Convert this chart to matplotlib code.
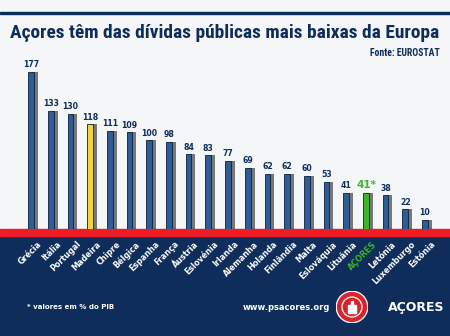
import numpy as np
import matplotlib.pyplot as plt
from matplotlib import font_manager
from matplotlib.patches import Rectangle, Circle

# dados (divida publica em % do PIB)
countries = ['Grécia', 'Itália', 'Portugal', 'Madeira', 'Chipre', 'Bélgica',
             'Espanha', 'França', 'Áustria', 'Eslovénia', 'Irlanda', 'Alemanha',
             'Holanda', 'Finlândia', 'Malta', 'Eslováquia', 'Lituânia', 'AÇORES',
             'Letónia', 'Luxemburgo', 'Estónia']
values = [177, 133, 130, 118, 111, 109, 100, 98, 84, 83, 77, 69,
          62, 62, 60, 53, 41, 41, 38, 22, 10]
value_labels = ['177', '133', '130', '118', '111', '109', '100', '98', '84', '83', '77', '69',
                '62', '62', '60', '53', '41', '41*', '38', '22', '10']

NAVY = '#0e2d5b'
BLUE = '#2f5b96'
RED = '#ee1c25'
GREEN = '#3cb527'
YELLOW = '#f2d53c'

W, H = 450, 336

# procurar uma fonte estreita para o titulo
names = set(f.name for f in font_manager.fontManager.ttflist)
narrow = 'DejaVu Sans'
for cand in ['Liberation Sans Narrow', 'DejaVu Sans Condensed', 'Roboto Condensed',
             'Open Sans Condensed', 'Roboto', 'Inter']:
    if cand in names:
        narrow = cand
        break

fig = plt.figure(figsize=(4.5, 3.36), dpi=100)
fig.patch.set_facecolor('#f5f6f8')

def fy(py):
    return 1 - py / H

# fundo: faixa azul em baixo, linha vermelha, linha no topo
fig.patches.append(Rectangle((0, 0), 1, fy(236), transform=fig.transFigure,
                             color=NAVY, zorder=-2))
fig.patches.append(Rectangle((0, fy(236)), 1, 7 / H, transform=fig.transFigure,
                             color=RED, zorder=-2))
fig.patches.append(Rectangle((0, fy(14)), 1, 2.5 / H, transform=fig.transFigure,
                             color=NAVY, zorder=-2))

title = fig.text(0.5, fy(33), 'Açores têm das dívidas públicas mais baixas da Europa',
                 ha='center', va='center', color=NAVY, fontsize=15, fontweight='bold',
                 family=narrow)
fig.canvas.draw()
tw = title.get_window_extent().width
title.set_fontsize(15 * 428 / tw)

fig.text(0.978, fy(53), 'Fonte: EUROSTAT', ha='right', va='center', color=NAVY,
         fontsize=7, fontweight='bold', family=narrow)

# eixo dos dados
x0, step = 31, 19.7
ax = fig.add_axes([0, fy(229), 1, (229 - 60) / H])
ax.set_xlim(-x0 / step, (W - x0) / step)
ax.set_ylim(0, 169 / 0.887)
ax.axis('off')

x = np.arange(len(values))
colors = []
for c in countries:
    if c == 'Madeira':
        colors.append(YELLOW)
    elif c == 'AÇORES':
        colors.append(GREEN)
    else:
        colors.append(BLUE)

# sombra
ax.bar(x + 0.2, values, width=0.3, color='#222222', alpha=0.6, zorder=1)
ax.bar(x, values, width=0.29, color=colors, edgecolor='#0b1f3f', linewidth=0.6, zorder=2)

for xi, v, lab, c in zip(x, values, value_labels, countries):
    if c == 'AÇORES':
        ax.text(xi + 0.05, v + 3, lab, ha='center', va='bottom', color=GREEN,
                fontsize=7.5, fontweight='bold')
    else:
        ax.text(xi, v + 3, lab, ha='center', va='bottom', color=NAVY,
                fontsize=5.6, fontweight='bold')

# nomes rodados por baixo
for xi, c in zip(x, countries):
    ax.text(xi + 0.3, -12, c, rotation=45, ha='right', va='top',
            rotation_mode='anchor', color=GREEN if c == 'AÇORES' else 'white',
            fontsize=5.8, fontweight='bold', clip_on=False)

fig.text(27 / W, fy(307), '* valores em % do PIB', ha='left', va='center',
         color='white', fontsize=5, fontweight='bold')
fig.text(330 / W, fy(308), 'www.psacores.org', ha='right', va='center',
         color='white', fontsize=6, fontweight='bold')
fig.text(388 / W, fy(308), 'AÇORES', ha='left', va='center',
         color='white', fontsize=9, fontweight='bold')

# logotipo simplificado
lx, ly = 352, 307
lax = fig.add_axes([(lx - 16) / W, fy(ly + 16), 32 / W, 32 / H])
lax.set_xlim(-1, 1)
lax.set_ylim(-1, 1)
lax.set_aspect('equal')
lax.axis('off')
lax.add_patch(Circle((0, 0), 0.98, color='white'))
lax.add_patch(Circle((0, 0), 0.9, color='#d9232b'))
lax.add_patch(Circle((0, 0), 0.62, color='white'))
lax.add_patch(Circle((0, 0), 0.54, color='#d9232b'))
lax.add_patch(Rectangle((-0.22, -0.35), 0.44, 0.5, color='white'))
lax.add_patch(Rectangle((-0.08, 0.1), 0.16, 0.3, color='white'))

fig.savefig('out.png', dpi=100, facecolor=fig.get_facecolor())
